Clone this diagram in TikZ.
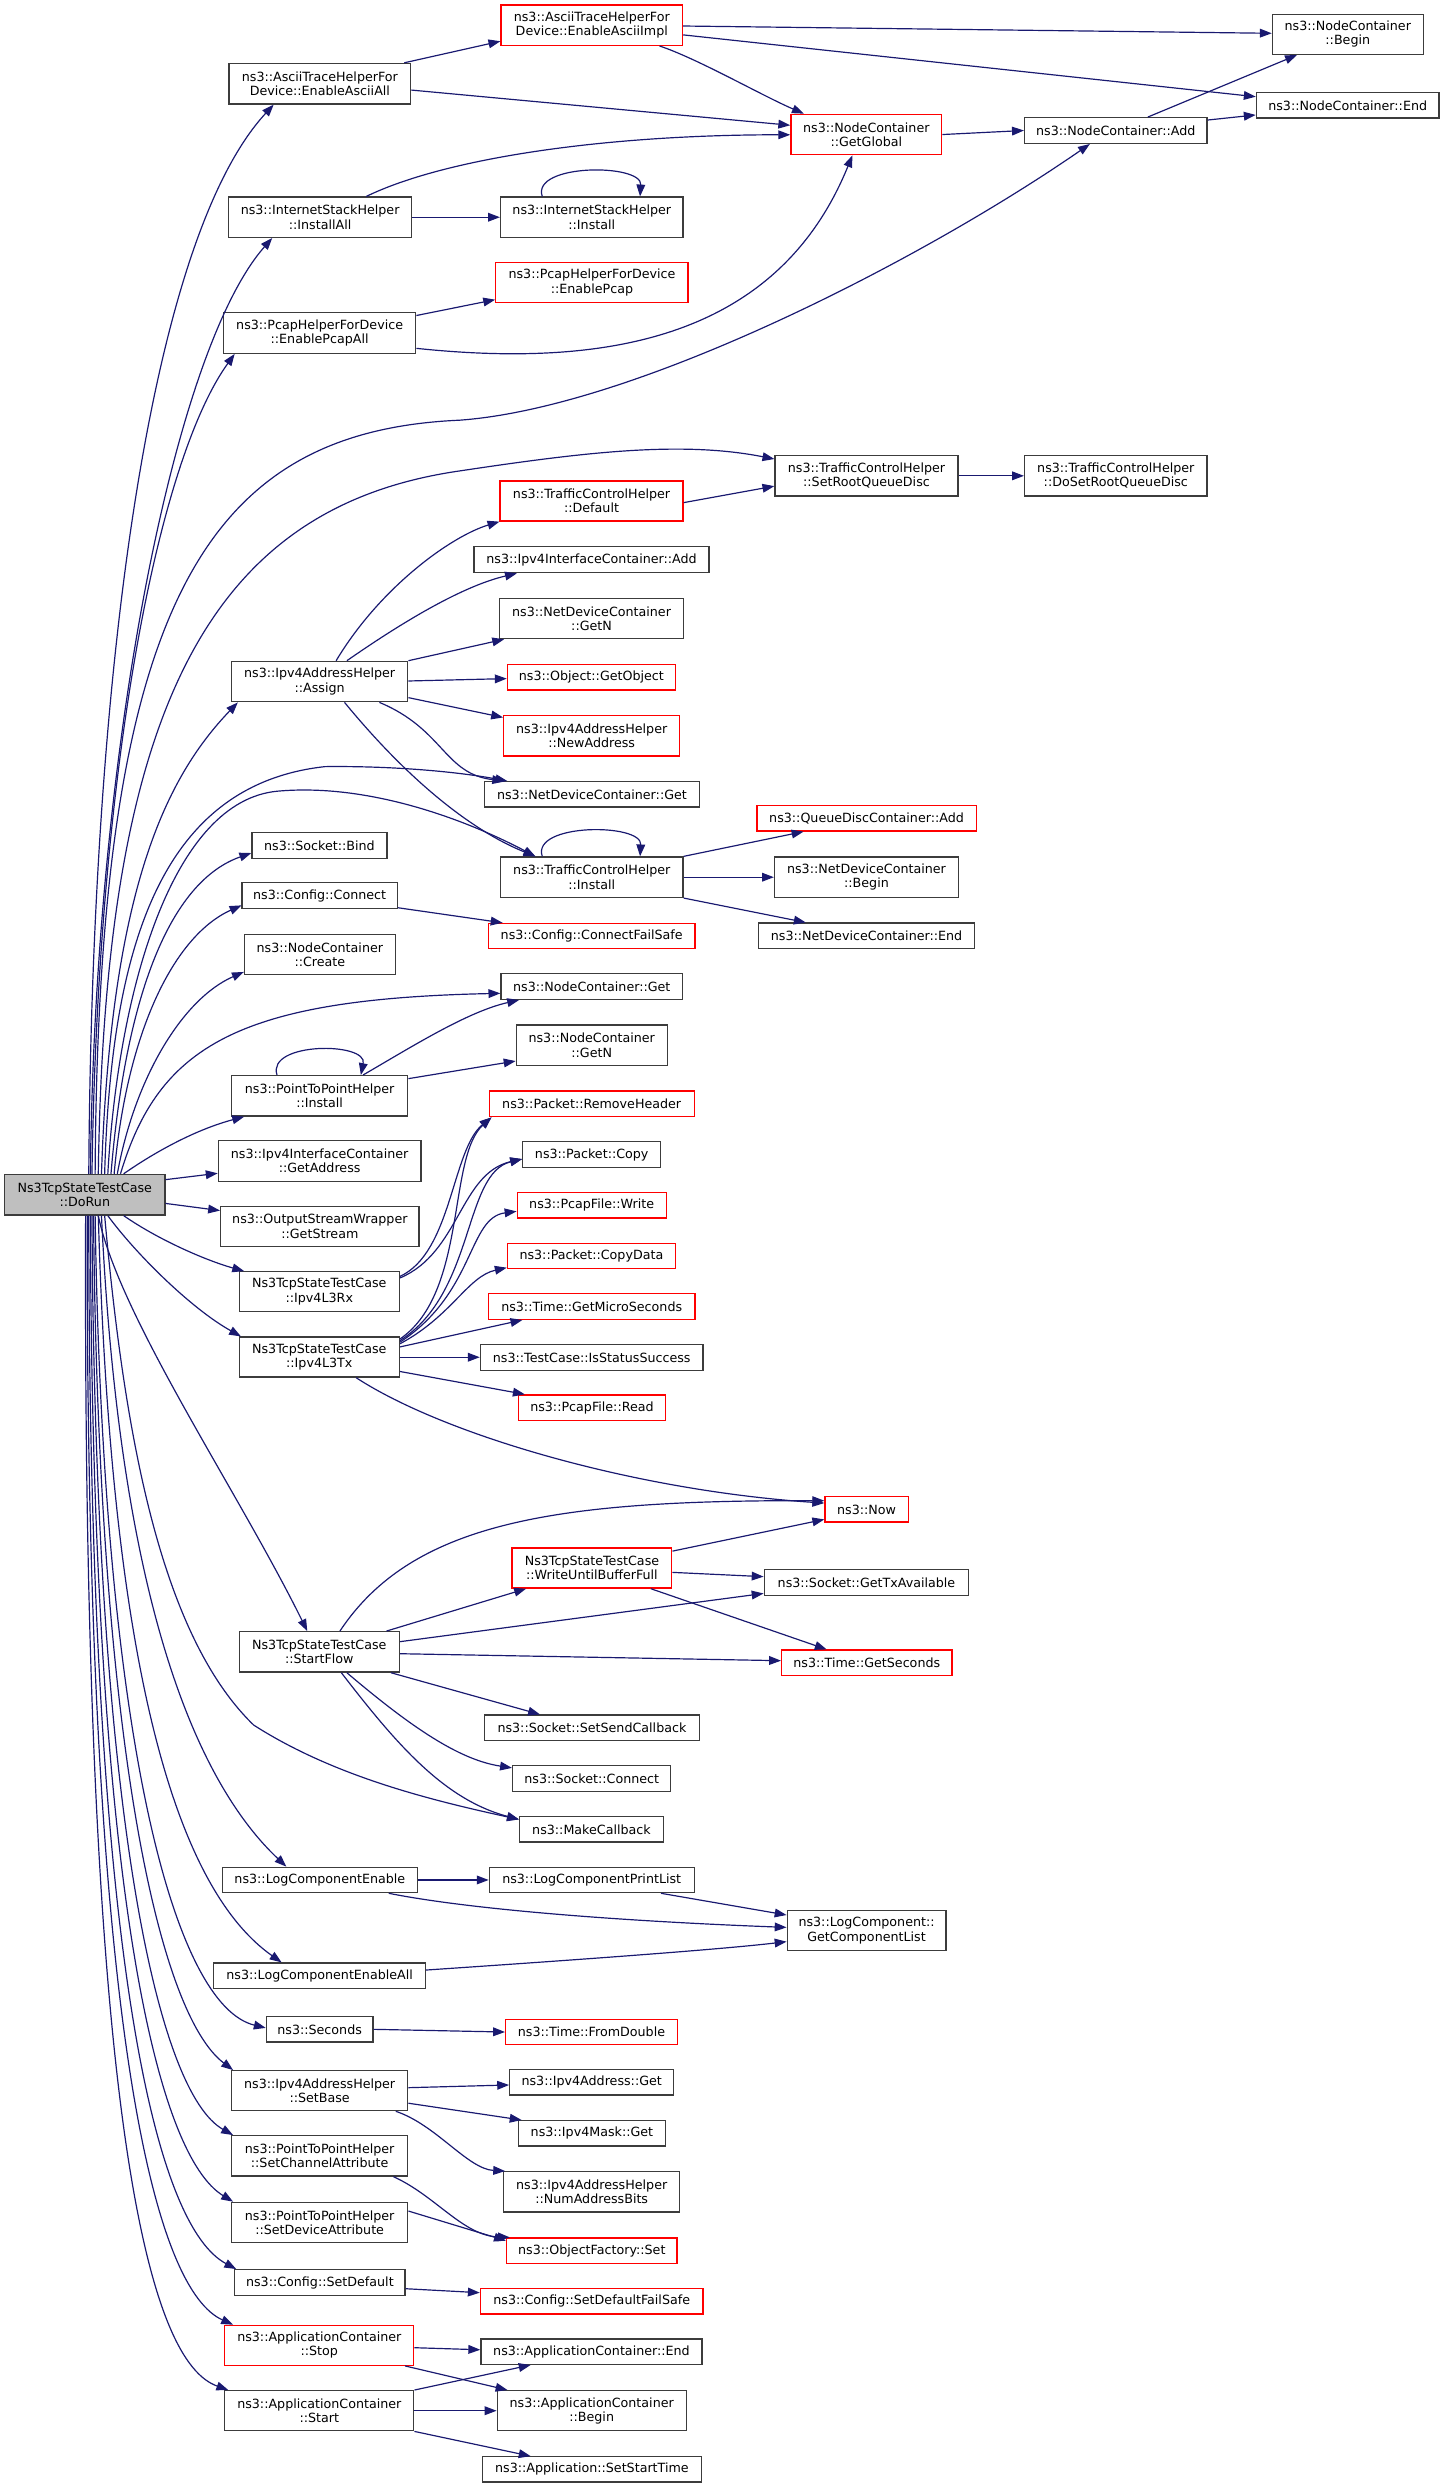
\documentclass[tikz,border=0pt]{standalone}
\usepackage{fontspec}
\setmainfont{DejaVu Sans}
\usetikzlibrary{arrows.meta}
\definecolor{edgec}{RGB}{25,25,112}
\definecolor{boxc}{RGB}{60,60,60}
\definecolor{redc}{RGB}{255,0,0}
\definecolor{fillc}{RGB}{191,191,191}
\newcommand\mkbox[7]{\node[#6, minimum width={(#4)-(#2)}, minimum height={(#5)-(#3)}] (#1) at ({(#2+#4)/2},{(#3+#5)/2}) {#7};}
\tikzset{
  fn/.style={draw=boxc, fill=white, line width=0.8pt, inner sep=0pt, align=center, font=\fontsize{8}{9}\selectfont, text=black},
  fnr/.style={fn, draw=redc},
  fnm/.style={fn, fill=fillc},
  cedge/.style={draw=edgec, line width=0.75pt, -{Triangle[length=7.5pt,width=5.5pt]}},
}
\begin{document}
\begin{tikzpicture}[x=1pt,y=-1pt]
\useasboundingbox (0,0) rectangle (911.4,1569.2);
% ---- nodes
\mkbox{DoRun}{3}{740.7}{104}{766.3}{fnm}{Ns3TcpStateTestCase\\::DoRun}
\mkbox{eaa}{144.5}{40}{259}{65.6}{fn}{ns3::AsciiTraceHelperFor\\Device::EnableAsciiAll}
\mkbox{isa}{144.2}{124.3}{259.6}{149.7}{fn}{ns3::InternetStackHelper\\::InstallAll}
\mkbox{epa}{141}{197.2}{262.2}{222.8}{fn}{ns3::PcapHelperForDevice\\::EnablePcapAll}
\mkbox{asg}{146}{417.1}{257.2}{442.6}{fn}{ns3::Ipv4AddressHelper\\::Assign}
\mkbox{bind}{158.9}{525.2}{244}{541.4}{fn}{ns3::Socket::Bind}
\mkbox{ccon}{152.7}{556.7}{250.5}{573.1}{fn}{ns3::Config::Connect}
\mkbox{ncc}{154.2}{589.3}{249.3}{614.7}{fn}{ns3::NodeContainer\\::Create}
\mkbox{p2pi}{146}{678.4}{257.2}{703.9}{fn}{ns3::PointToPointHelper\\::Install}
\mkbox{gad}{137.7}{719.4}{265.5}{745.1}{fn}{ns3::Ipv4InterfaceContainer\\::GetAddress}
\mkbox{gst}{139.2}{760.9}{264.3}{786}{fn}{ns3::OutputStreamWrapper\\::GetStream}
\mkbox{rx}{150.9}{802.1}{251.9}{827.3}{fn}{Ns3TcpStateTestCase\\::Ipv4L3Rx}
\mkbox{tx}{150.9}{843.3}{251.9}{868.5}{fn}{Ns3TcpStateTestCase\\::Ipv4L3Tx}
\mkbox{sf}{150.9}{1029.1}{251.9}{1054.6}{fn}{Ns3TcpStateTestCase\\::StartFlow}
\mkbox{lce}{140.4}{1177.7}{263.1}{1193.7}{fn}{ns3::LogComponentEnable}
\mkbox{lcea}{134.8}{1238.1}{268.4}{1254.3}{fn}{ns3::LogComponentEnableAll}
\mkbox{sec}{168}{1271.9}{235.2}{1287.9}{fn}{ns3::Seconds}
\mkbox{sb}{146}{1306}{257.2}{1331.2}{fn}{ns3::Ipv4AddressHelper\\::SetBase}
\mkbox{sca}{146}{1347}{257.2}{1372.4}{fn}{ns3::PointToPointHelper\\::SetChannelAttribute}
\mkbox{sda}{146}{1389}{257.2}{1414.5}{fn}{ns3::PointToPointHelper\\::SetDeviceAttribute}
\mkbox{sd}{148}{1431.5}{255.5}{1447.7}{fn}{ns3::Config::SetDefault}
\mkbox{stop}{141.8}{1466.6}{261}{1491.8}{fnr}{ns3::ApplicationContainer\\::Stop}
\mkbox{start}{141.8}{1507.8}{261}{1533.1}{fn}{ns3::ApplicationContainer\\::Start}
%
\mkbox{eai}{316}{3.2}{430.5}{28.6}{fnr}{ns3::AsciiTraceHelperFor\\Device::EnableAsciiImpl}
\mkbox{ish}{315.7}{124.3}{430.8}{149.7}{fn}{ns3::InternetStackHelper\\::Install}
\mkbox{ep}{312.7}{165.5}{434}{190.9}{fnr}{ns3::PcapHelperForDevice\\::EnablePcap}
\mkbox{gg}{498.8}{72.1}{594}{97.6}{fnr}{ns3::NodeContainer\\::GetGlobal}
\mkbox{ncadd}{646.2}{74.2}{761.3}{90.4}{fn}{ns3::NodeContainer::Add}
\mkbox{ncb}{802.5}{9}{897.6}{34.3}{fn}{ns3::NodeContainer\\::Begin}
\mkbox{nce}{792.4}{58.5}{907.6}{74.4}{fn}{ns3::NodeContainer::End}
\mkbox{tcd}{315.4}{303.4}{430.8}{328.6}{fnr}{ns3::TrafficControlHelper\\::Default}
\mkbox{iica}{299}{344.8}{447.2}{361.2}{fn}{ns3::Ipv4InterfaceContainer::Add}
\mkbox{ndgn}{315.1}{377.4}{431.1}{402.8}{fn}{ns3::NetDeviceContainer\\::GetN}
\mkbox{go}{320}{419.2}{426}{435.2}{fnr}{ns3::Object::GetObject}
\mkbox{na}{317.7}{451.4}{428.7}{476.8}{fnr}{ns3::Ipv4AddressHelper\\::NewAddress}
\mkbox{ndg}{305.7}{493}{441}{509}{fn}{ns3::NetDeviceContainer::Get}
\mkbox{srqd}{488.8}{287.4}{604.2}{312.8}{fn}{ns3::TrafficControlHelper\\::SetRootQueueDisc}
\mkbox{dsrqd}{646.2}{287.4}{761.3}{312.8}{fn}{ns3::TrafficControlHelper\\::DoSetRootQueueDisc}
\mkbox{qdca}{477.4}{508.2}{615.7}{524.1}{fnr}{ns3::QueueDiscContainer::Add}
\mkbox{ndb}{488.5}{540.5}{604.5}{566}{fn}{ns3::NetDeviceContainer\\::Begin}
\mkbox{nde}{478.3}{582.2}{614.8}{598.3}{fn}{ns3::NetDeviceContainer::End}
\mkbox{tci}{315.7}{540.5}{430.8}{566}{fn}{ns3::TrafficControlHelper\\::Install}
\mkbox{cfs}{308}{582.4}{438.4}{598.3}{fnr}{ns3::Config::ConnectFailSafe}
\mkbox{ncg}{316}{614.1}{430.5}{630.3}{fn}{ns3::NodeContainer::Get}
\mkbox{ncgn}{325.6}{646.5}{420.8}{671.9}{fn}{ns3::NodeContainer\\::GetN}
\mkbox{rh}{308.6}{688.1}{437.8}{704.3}{fnr}{ns3::Packet::RemoveHeader}
\mkbox{pc}{329.7}{720.1}{416.7}{736.2}{fn}{ns3::Packet::Copy}
\mkbox{pw}{326.2}{752}{420.2}{768.2}{fnr}{ns3::PcapFile::Write}
\mkbox{pcd}{320}{784.2}{426}{800.2}{fnr}{ns3::Packet::CopyData}
\mkbox{gms}{308}{815.9}{438.4}{832.1}{fnr}{ns3::Time::GetMicroSeconds}
\mkbox{iss}{303}{848.1}{443.4}{864.3}{fn}{ns3::TestCase::IsStatusSuccess}
\mkbox{pr}{327.1}{879.8}{419.6}{896}{fnr}{ns3::PcapFile::Read}
\mkbox{wubf}{323}{976.3}{423.7}{1001.6}{fnr}{Ns3TcpStateTestCase\\::WriteUntilBufferFull}
\mkbox{now}{520.3}{944}{572.8}{960}{fnr}{ns3::Now}
\mkbox{gtx}{482}{990}{611}{1006.2}{fn}{ns3::Socket::GetTxAvailable}
\mkbox{gs}{493}{1040.7}{600.4}{1056.6}{fnr}{ns3::Time::GetSeconds}
\mkbox{ssc}{305.7}{1081.7}{441}{1097.9}{fn}{ns3::Socket::SetSendCallback}
\mkbox{sc}{323.3}{1113.6}{423.1}{1129.8}{fn}{ns3::Socket::Connect}
\mkbox{mc}{327.7}{1145.8}{418.4}{1161.8}{fn}{ns3::MakeCallback}
\mkbox{lcpl}{308.6}{1177.7}{437.8}{1193.7}{fn}{ns3::LogComponentPrintList}
\mkbox{gcl}{496.5}{1204.8}{596.6}{1230.3}{fn}{ns3::LogComponent::\\GetComponentList}
\mkbox{fd}{318.9}{1273.6}{427.2}{1289.6}{fnr}{ns3::Time::FromDouble}
\mkbox{i4g}{321.5}{1305.4}{424.9}{1321.3}{fn}{ns3::Ipv4Address::Get}
\mkbox{i4m}{327.1}{1337.5}{419.6}{1353.5}{fn}{ns3::Ipv4Mask::Get}
\mkbox{nab}{317.7}{1369.7}{428.7}{1395.1}{fn}{ns3::Ipv4AddressHelper\\::NumAddressBits}
\mkbox{ofs}{319.5}{1411.5}{427}{1427.5}{fnr}{ns3::ObjectFactory::Set}
\mkbox{sdfs}{303}{1443.5}{443.4}{1459.5}{fnr}{ns3::Config::SetDefaultFailSafe}
\mkbox{ace}{303.3}{1475.2}{442.8}{1491.2}{fn}{ns3::ApplicationContainer::End}
\mkbox{acb}{313.6}{1507.8}{432.8}{1533.1}{fn}{ns3::ApplicationContainer\\::Begin}
\mkbox{asst}{304.2}{1549.5}{442.5}{1565.4}{fn}{ns3::Application::SetStartTime}
% ---- edges from DoRun (upwards)
\draw[cedge] (DoRun.north -| 56,0) .. controls (58,420) and (95,150) .. (eaa.south -| 172.6,0);
\draw[cedge] (DoRun.north -| 57,0) .. controls (60,470) and (110,220) .. (isa.south -| 171.7,0);
\draw[cedge] (DoRun.north -| 58,0) .. controls (62,480) and (100,290) .. (epa.south -| 148,0);
\draw[cedge] (DoRun.north -| 60,0) .. controls (62,380) and (130,272) .. (290,265) .. controls (400,257) and (580,165) .. (ncadd.south -| 687.4,0);
\draw[cedge] (DoRun.north -| 62,0) .. controls (66,450) and (130,320) .. (290,297) .. controls (370,285) and (430,278) .. (srqd.west |- 0,289.5);
\draw[cedge] (DoRun.north -| 64,0) .. controls (70,560) and (105,490) .. (asg.south -| 150,0);
\draw[cedge] (DoRun.north -| 66,0) .. controls (70,600) and (100,495) .. (205,483.5) .. controls (250,483) and (290,487) .. (ndg.north -| 320,0);
\draw[cedge] (DoRun.north -| 68,0) .. controls (75,620) and (110,505) .. (175,499) .. controls (230,494) and (290,515) .. (tci.north -| 337.7,0);
\draw[cedge] (DoRun.north -| 70,0) .. controls (80,620) and (110,555) .. (bind.west |- 0,538);
\draw[cedge] (DoRun.north -| 72,0) .. controls (80,650) and (110,590) .. (ccon.west |- 0,571);
\draw[cedge] (DoRun.north -| 74,0) .. controls (85,680) and (115,630) .. (ncc.west |- 0,613);
\draw[cedge] (DoRun.north -| 76,0) .. controls (100,660) and (150,630) .. (ncg.west |- 0,626.5);
\draw[cedge] (DoRun.north -| 78,0) .. controls (100,725) and (125,712) .. (p2pi.south -| 154,0);
\draw[cedge] (DoRun.east |- 0,744) -- (gad.west |- 0,740);
\draw[cedge] (DoRun.east |- 0,759) -- (gst.west |- 0,763.5);
% ---- edges from DoRun (downwards)
\draw[cedge] (DoRun.south -| 78,0) .. controls (100,782) and (130,795) .. (rx.north -| 154,0);
\draw[cedge] (DoRun.south -| 68,0) .. controls (85,790) and (120,825) .. (tx.north -| 152,0);
\draw[cedge] (DoRun.south -| 62,0) .. controls (75,830) and (150,940) .. (sf.north -| 193.8,0);
\draw[cedge] (DoRun.south -| 66,0) .. controls (78,900) and (100,1030) .. (160,1088) .. controls (210,1120) and (270,1135) .. (mc.west |- 0,1147.5);
\draw[cedge] (DoRun.south -| 64,0) .. controls (75,1000) and (120,1120) .. (lce.north -| 180.6,0);
\draw[cedge] (DoRun.south -| 62,0) .. controls (70,1050) and (110,1190) .. (lcea.north -| 177.6,0);
\draw[cedge] (DoRun.south -| 60,0) .. controls (65,1100) and (110,1265) .. (sec.west |- 0,1279);
\draw[cedge] (DoRun.south -| 59,0) .. controls (62,1100) and (100,1270) .. (sb.north -| 147,0);
\draw[cedge] (DoRun.south -| 58,0) .. controls (60,1150) and (100,1320) .. (sca.north -| 147,0);
\draw[cedge] (DoRun.south -| 57,0) .. controls (58,1200) and (100,1360) .. (sda.north -| 147,0);
\draw[cedge] (DoRun.south -| 56,0) .. controls (56,1250) and (100,1405) .. (sd.north -| 149,0);
\draw[cedge] (DoRun.south -| 55,0) .. controls (54,1300) and (100,1445) .. (stop.north -| 147,0);
\draw[cedge] (DoRun.south -| 54,0) .. controls (52,1350) and (95,1490) .. (start.north -| 144,0);
% ---- top group
\draw[cedge] (eaa.north -| 255,0) -- (eai.west |- 0,26);
\draw[cedge] (eaa.east |- 0,56.8) -- (gg.west |- 0,79);
\draw[cedge] (eai.east |- 0,16.4) -- (ncb.west |- 0,21);
\draw[cedge] (eai.east |- 0,22) -- (nce.west |- 0,61);
\draw[cedge] (eai.south -| 416,0) .. controls (440,37) and (480,60) .. (gg.north -| 507,0);
\draw[cedge] (isa.north -| 231,0) .. controls (280,100) and (380,85) .. (gg.west |- 0,85);
\draw[cedge] (isa.east) -- (ish.west);
\draw[cedge] (ish.north -| 342,0) .. controls (335,103) and (405,103) .. (ish.north -| 403.7,0);
\draw[cedge] (epa.east |- 0,199) -- (ep.west |- 0,189);
\draw[cedge] (epa.east |- 0,219.7) .. controls (380,232) and (490,215) .. (gg.south -| 537.6,0);
\draw[cedge] (gg.east) -- (ncadd.west);
\draw[cedge] (ncadd.north -| 724,0) -- (ncb.south -| 818,0);
\draw[cedge] (ncadd.east |- 0,75.7) -- (nce.west |- 0,72.5);
% ---- traffic control / address helper
\draw[cedge] (tcd.east |- 0,317) -- (srqd.west |- 0,306.6);
\draw[cedge] (srqd.east) -- (dsrqd.west);
\draw[cedge] (asg.north -| 212,0) .. controls (240,370) and (285,338) .. (tcd.south west);
\draw[cedge] (asg.north -| 218.8,0) .. controls (250,395) and (290,370) .. (iica.south -| 326,0);
\draw[cedge] (asg.north east) -- (ndgn.south -| 318,0);
\draw[cedge] (asg.east |- 0,429.5) -- (go.west |- 0,428);
\draw[cedge] (asg.east |- 0,440) -- (na.west |- 0,452.5);
\draw[cedge] (asg.south -| 239.3,0) .. controls (280,460) and (280,488) .. (ndg.north -| 318,0);
\draw[cedge] (asg.south -| 217.3,0) .. controls (260,495) and (300,525) .. (tci.north -| 337.7,0);
\draw[cedge] (tci.north -| 342,0) .. controls (335,519) and (405,519) .. (tci.north -| 403.7,0);
\draw[cedge] (tci.north east) -- (qdca.south -| 506.8,0);
\draw[cedge] (tci.east) -- (ndb.west);
\draw[cedge] (tci.south east) -- (nde.north -| 508.2,0);
\draw[cedge] (ccon.east |- 0,572.5) -- (cfs.north -| 317,0);
\draw[cedge] (p2pi.north -| 229,0) .. controls (260,660) and (295,638) .. (ncg.south -| 327.4,0);
\draw[cedge] (p2pi.north -| 174.7,0) .. controls (168,657) and (232,657) .. (p2pi.north -| 227.6,0);
\draw[cedge] (p2pi.east |- 0,680.3) -- (ncgn.west |- 0,669.2);
% ---- Rx / Tx
\draw[cedge] (rx.east |- 0,805) .. controls (285,790) and (285,725) .. (rh.south -| 310,0);
\draw[cedge] (tx.east |- 0,844.5) .. controls (295,815) and (282,730) .. (rh.south -| 310,0);
\draw[cedge] (rx.east |- 0,806) .. controls (290,790) and (290,740) .. (pc.west |- 0,731);
\draw[cedge] (tx.east |- 0,845.5) .. controls (300,815) and (292,740) .. (pc.west |- 0,731);
\draw[cedge] (tx.east |- 0,846.5) .. controls (300,815) and (295,768) .. (pw.west |- 0,764);
\draw[cedge] (tx.east |- 0,847.5) .. controls (285,830) and (295,805) .. (pcd.west |- 0,799.5);
\draw[cedge] (tx.east |- 0,849.5) -- (gms.south -| 329.5,0);
\draw[cedge] (tx.east |- 0,856) -- (iss.west |- 0,856);
\draw[cedge] (tx.east |- 0,865) -- (pr.north -| 331,0);
\draw[cedge] (tx.south -| 224.6,0) .. controls (280,905) and (400,940) .. (now.west |- 0,948);
% ---- StartFlow
\draw[cedge] (sf.north -| 214.4,0) .. controls (260,960) and (350,946) .. (now.west |- 0,946.5);
\draw[cedge] (sf.north -| 243.8,0) -- (wubf.south -| 331.8,0);
\draw[cedge] (sf.east |- 0,1035.4) -- (gtx.west |- 0,1005);
\draw[cedge] (sf.east |- 0,1043) -- (gs.west |- 0,1047.4);
\draw[cedge] (sf.south -| 246.6,0) -- (ssc.north -| 340.6,0);
\draw[cedge] (sf.south -| 218.8,0) .. controls (260,1090) and (290,1110) .. (sc.west |- 0,1115);
\draw[cedge] (sf.south -| 215.3,0) .. controls (250,1100) and (280,1135) .. (mc.west |- 0,1147.5);
\draw[cedge] (wubf.east |- 0,978.3) -- (now.west |- 0,958.3);
\draw[cedge] (wubf.east |- 0,991.7) -- (gtx.west |- 0,994.4);
\draw[cedge] (wubf.south -| 410.5,0) -- (gs.north -| 521.4,0);
% ---- log components etc.
\draw[cedge] (lce.east) -- (lcpl.west);
\draw[cedge] (lce.south -| 245.2,0) .. controls (300,1205) and (400,1212) .. (gcl.west |- 0,1215.6);
\draw[cedge] (lcpl.south -| 416.9,0) -- (gcl.west |- 0,1207.8);
\draw[cedge] (lcea.east |- 0,1242.5) .. controls (350,1237) and (450,1230) .. (gcl.west |- 0,1224.6);
\draw[cedge] (sec.east) -- (fd.west);
\draw[cedge] (sb.east |- 0,1316.7) -- (i4g.west |- 0,1315);
\draw[cedge] (sb.east |- 0,1326.5) -- (i4m.north -| 329,0);
\draw[cedge] (sb.south -| 249.6,0) .. controls (275,1340) and (295,1368) .. (nab.north -| 318.6,0);
\draw[cedge] (sca.south -| 248.1,0) .. controls (275,1385) and (292,1410) .. (ofs.north -| 321.5,0);
\draw[cedge] (sda.east |- 0,1394.5) -- (ofs.west |- 0,1413.2);
\draw[cedge] (sd.east |- 0,1443.5) -- (sdfs.west |- 0,1446);
\draw[cedge] (stop.east |- 0,1480.7) -- (ace.west |- 0,1482);
\draw[cedge] (stop.south -| 255.5,0) -- (acb.north -| 320.1,0);
\draw[cedge] (start.north east) -- (ace.south -| 334.7,0);
\draw[cedge] (start.east) -- (acb.west);
\draw[cedge] (start.south east) -- (asst.north -| 334.7,0);
\end{tikzpicture}
\end{document}
